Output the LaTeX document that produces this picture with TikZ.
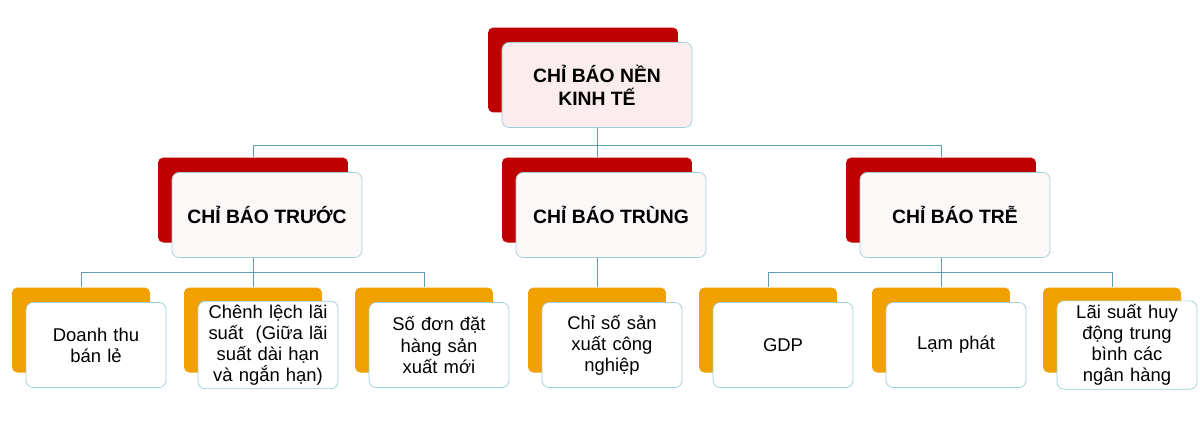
\documentclass[tikz,border=0pt]{standalone}
\usepackage{fontspec}
\setmainfont{Liberation Sans}
\usetikzlibrary{positioning}
\definecolor{bkred}{HTML}{C00000}
\definecolor{bkorange}{HTML}{F0A000}
\definecolor{frline}{HTML}{9CCFDA}
\definecolor{frpink}{HTML}{FBEDED}
\definecolor{conn}{HTML}{5B9FB0}

\begin{document}
\begin{tikzpicture}[
  x=0.02cm, y=-0.02cm,
  every node/.style={font=\fontsize{11}{13}\selectfont},
  redback/.style={fill=bkred,draw=none,rounded corners=3pt,minimum width=3.8cm,minimum height=1.7cm,inner sep=0pt},
  orgback/.style={fill=bkorange,draw=none,rounded corners=3pt,minimum width=2.76cm,minimum height=1.7cm,inner sep=0pt},
  headbox/.style={draw=frline,fill=frpink,rounded corners=4pt,minimum width=3.8cm,minimum height=1.7cm,align=center,font=\bfseries\fontsize{11}{13}\selectfont},
  leafbox/.style={draw=frline,fill=white,rounded corners=4pt,minimum width=2.8cm,minimum height=1.7cm,text width=2.6cm,inner sep=2pt,align=center,font=\fontsize{10.5}{12}\selectfont},
  link/.style={draw=conn,line width=0.5pt}
]
\useasboundingbox (0,0) rectangle (1200,424);

% top
\node[redback] (rtop) at (583,70) {};
\node[headbox] (top) at (597,85) {CHỈ BÁO NỀN\\KINH TẾ};

% middle level
\node[redback] (rlead) at (253,200) {};
\node[headbox,fill=white!60!frpink] (lead) at (267,215) {CHỈ BÁO TRƯỚC};
\node[redback] (rcoin) at (597,200) {};
\node[headbox,fill=white!60!frpink] (coin) at (611,215) {CHỈ BÁO TRÙNG};
\node[redback] (rlag) at (941,200) {};
\node[headbox,fill=white!60!frpink] (lag) at (955,215) {CHỈ BÁO TRỄ};

% leaves
\foreach \nm/\cx/\txt in {
  l1/81/{Doanh thu\\bán lẻ},
  l2/253/{Chênh lệch lãi suất\ \ (Giữa lãi suất dài hạn và ngắn hạn)},
  l3/424/{Số đơn đặt hàng sản xuất mới},
  c1/597/{Chỉ số sản\\xuất công nghiệp},
  g1/768/{GDP},
  g2/941/{Lạm phát},
  g3/1112/{Lãi suất huy động trung bình các ngân hàng}}{
  \node[orgback] (r\nm) at (\cx,330) {};
  \node[leafbox] (\nm) at (\cx+15,345) {\txt};
}

% connectors
\coordinate (j0) at (597,145);
\draw[link] (top.south) -- (j0);
\draw[link] (j0) -| (rlead.north);
\draw[link] (j0) -| (rlag.north);
\draw[link] (j0) -- (rcoin.north);

\coordinate (j1) at (253,272);
\draw[link] (lead.south -| rlead) -- (j1);
\draw[link] (j1) -| (rl1.north);
\draw[link] (j1) -- (rl2.north);
\draw[link] (j1) -| (rl3.north);

\draw[link] (coin.south -| rcoin) -- (rc1.north);

\coordinate (j2) at (941,272);
\draw[link] (lag.south -| rlag) -- (j2);
\draw[link] (j2) -| (rg1.north);
\draw[link] (j2) -- (rg2.north);
\draw[link] (j2) -| (rg3.north);
\end{tikzpicture}
\end{document}
